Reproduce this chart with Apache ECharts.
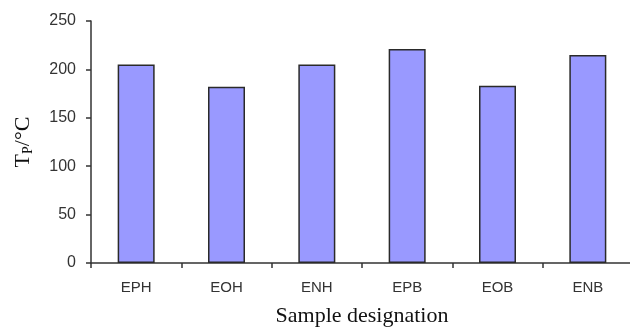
<!DOCTYPE html>
<html>
<head>
<meta charset="utf-8">
<script src="https://cdn.jsdelivr.net/npm/echarts@6/dist/echarts.min.js"></script>
<style>
  html, body { margin: 0; padding: 0; background: #fff; }
  #chart { width: 630px; height: 327px; }
</style>
</head>
<body>
<div id="chart"></div>
<script>
// sample names and peak temperatures
const categories = ['EPH', 'EOH', 'ENH', 'EPB', 'EOB', 'ENB']
const tpValues = [205, 182, 205, 221, 183, 215]
const yTicks = [0, 50, 100, 150, 200, 250]

const chart = echarts.init(document.getElementById('chart'))

const option = {
  animation: false,
  grid: {
    left: 91,
    top: 21,
    width: 542,
    height: 242,
    outerBoundsMode: 'none'
  },
  xAxis: {
    type: 'category',
    data: categories,
    name: 'Sample designation',
    nameLocation: 'middle',
    nameGap: 42,
    nameTextStyle: {
      fontFamily: 'Liberation Serif',
      fontSize: 22,
      color: '#111'
    },
    axisLine: { lineStyle: { color: '#333', width: 1.5 } },
    axisTick: { show: true, length: 5, lineStyle: { color: '#333', width: 1.5 } },
    axisLabel: {
      margin: 17,
      fontFamily: 'Liberation Sans',
      fontSize: 15,
      color: '#333'
    }
  },
  yAxis: {
    type: 'value',
    min: yTicks[0],
    max: yTicks[yTicks.length - 1],
    interval: 50,
    name: '{t|T}{s|P}{t|/°C}',
    nameLocation: 'middle',
    nameGap: 56,
    nameRotate: 90,
    nameTextStyle: {
      rich: {
        t: { fontFamily: 'Liberation Serif', fontSize: 22, color: '#111' },
        s: { fontFamily: 'Liberation Serif', fontSize: 14, color: '#111', verticalAlign: 'bottom', padding: [9, 0, 0, 0] }
      }
    },
    axisLine: { show: true, lineStyle: { color: '#333', width: 1.5 } },
    axisTick: { show: true, length: 5, lineStyle: { color: '#333', width: 1.5 } },
    splitLine: { show: false },
    axisLabel: {
      margin: 15,
      fontFamily: 'Liberation Sans',
      fontSize: 16,
      color: '#333'
    }
  },
  series: [{
    type: 'bar',
    data: tpValues,
    barWidth: 37,
    itemStyle: {
      color: '#9999ff',
      borderColor: '#2a2a2a',
      borderWidth: 1.5
    }
  }]
}

chart.setOption(option)
</script>
</body>
</html>
